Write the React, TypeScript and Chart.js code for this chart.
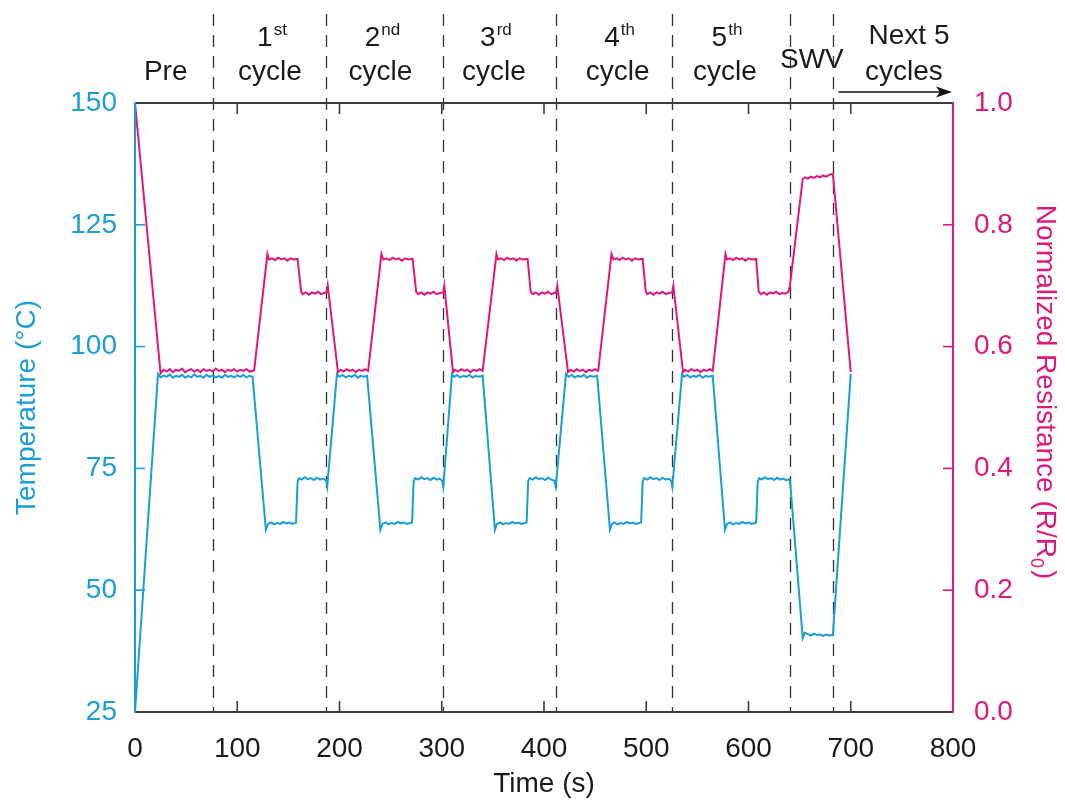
import React, { useEffect, useRef } from 'react';
import { Chart, registerables } from 'chart.js';

Chart.register(...registerables);

// ---------- data ----------
const tempTime = [
  0, 22.5, 25, 28, 31, 34, 37, 40, 43, 46, 49, 52, 55, 58, 61, 64, 67, 70, 73, 76, 79, 82, 85, 88, 91, 94, 97, 100, 103, 106, 109, 112, 115,
  128, 130, 133, 136, 139, 142, 145, 148, 151, 154, 157.5,
  159, 160.5, 163, 166, 169, 172, 175, 178, 181, 184, 187, 188,
  197.5, 200, 203, 206, 209, 212, 215, 218, 221, 224, 227,
  240, 242, 245, 248, 251, 254, 257, 260, 263, 266, 269, 271,
  272.5, 274, 277, 280, 283, 286, 289, 292, 295, 298, 300.5, 301.5,
  310, 312, 315, 318, 321, 324, 327, 330, 333, 336, 340,
  352, 354, 357, 360, 363, 366, 369, 372, 375, 378, 381, 383,
  384.5, 386, 389, 392, 395, 398, 401, 404, 407, 410, 411.5,
  421.5, 424, 427, 430, 433, 436, 439, 442, 445, 448, 452,
  464.5, 466.5, 469, 472, 475, 478, 481, 484, 487, 490, 493, 495,
  496.5, 498, 501, 504, 507, 510, 513, 516, 519, 522, 524.5, 525.5,
  535, 537, 540, 543, 546, 549, 552, 555, 558, 561, 565,
  577, 579, 582, 585, 588, 591, 594, 597, 600, 603, 606, 607.5,
  609, 610.5, 613, 616, 619, 622, 625, 628, 631, 634, 637, 640, 641,
  653, 655, 658, 661, 664, 667, 670, 673, 676, 679, 682.5,
  700,
];
const tempValues = [
  25, 94.4, 93.7, 94.1, 93.8, 94.3, 93.6, 94.0, 93.8, 94.2, 93.6, 94.0, 93.7, 94.3, 93.8, 94.0, 93.6, 94.2, 93.8, 94.1, 93.7, 94.0, 93.6, 94.2, 93.8, 94.0, 93.7, 94.1, 93.8, 94.2, 93.7, 94.0, 93.8,
  62.4, 63.6, 63.9, 63.5, 63.8, 63.6, 64.0, 63.7, 63.9, 63.6, 63.9,
  72.2, 73.0, 72.7, 73.2, 72.8, 73.0, 72.6, 73.1, 72.7, 72.9, 72.5, 71.3,
  94.4, 93.8, 94.2, 93.7, 94.0, 93.8, 94.2, 93.6, 94.0, 93.8, 94.0,
  62.4, 63.6, 63.9, 63.5, 63.8, 63.6, 64.0, 63.7, 63.9, 63.6, 63.8, 63.9,
  72.3, 73.0, 72.7, 73.2, 72.8, 73.0, 72.6, 73.1, 72.7, 72.9, 72.4, 71.2,
  94.4, 93.8, 94.2, 93.7, 94.0, 93.8, 94.2, 93.6, 94.0, 93.8, 94.0,
  62.4, 63.6, 63.9, 63.5, 63.8, 63.6, 64.0, 63.7, 63.9, 63.6, 63.8, 63.9,
  72.3, 73.0, 72.7, 73.2, 72.8, 73.0, 72.6, 73.1, 72.7, 72.5, 71.2,
  94.4, 93.8, 94.2, 93.7, 94.0, 93.8, 94.2, 93.6, 94.0, 93.8, 94.0,
  62.4, 63.6, 63.9, 63.5, 63.8, 63.6, 64.0, 63.7, 63.9, 63.6, 63.8, 63.9,
  72.3, 73.0, 72.7, 73.2, 72.8, 73.0, 72.6, 73.1, 72.7, 72.9, 72.4, 71.2,
  94.4, 93.8, 94.2, 93.7, 94.0, 93.8, 94.2, 93.6, 94.0, 93.8, 94.0,
  62.4, 63.6, 63.9, 63.5, 63.8, 63.6, 64.0, 63.7, 63.9, 63.6, 63.8, 63.9,
  72.3, 73.0, 72.7, 73.2, 72.8, 73.0, 72.6, 73.1, 72.7, 72.9, 72.6, 72.8, 71.5,
  40.2, 41.3, 41.0, 40.7, 41.1, 40.8, 40.9, 40.6, 40.9, 40.7, 40.8,
  94.4,
];

const resTime = [
  0, 25, 28, 31, 34, 37, 40, 43, 46, 49, 52, 55, 58, 61, 64, 67, 70, 73, 76, 79, 82, 85, 88, 91, 94, 97, 100, 103, 106, 109, 112, 116.5,
  129.5, 131, 134, 137, 140, 143, 146, 149, 152, 155, 159,
  162.5, 164, 167, 170, 173, 176, 179, 182, 185, 187.5, 188.5,
  198.5, 201, 204, 207, 210, 213, 216, 219, 222, 225, 228,
  241, 243, 246, 249, 252, 255, 258, 261, 264, 267, 271.5,
  275, 277, 280, 283, 286, 289, 292, 295, 298, 301.5, 302.5,
  311, 313, 316, 319, 322, 325, 328, 331, 334, 337, 340,
  353.5, 355, 358, 361, 364, 367, 370, 373, 376, 379, 384,
  387, 389, 392, 395, 398, 401, 404, 407, 410, 412, 413,
  423.5, 426, 429, 432, 435, 438, 441, 444, 447, 450, 453,
  466, 468, 471, 474, 477, 480, 483, 486, 489, 492, 496.5,
  499.5, 501, 504, 507, 510, 513, 516, 519, 522, 525.5, 526.5,
  536, 538, 541, 544, 547, 550, 553, 556, 559, 562, 565,
  577.5, 579, 582, 585, 588, 591, 594, 597, 600, 603, 607.5,
  610, 612, 615, 618, 621, 624, 627, 630, 633, 636, 639, 640.5,
  653, 655, 658, 661, 664, 667, 670, 673, 676, 679, 682.5,
  700,
];
const resValues = [
  1.0, 0.556, 0.562, 0.559, 0.563, 0.558, 0.562, 0.56, 0.564, 0.558, 0.561, 0.563, 0.559, 0.562, 0.558, 0.563, 0.56, 0.562, 0.559, 0.564, 0.56, 0.562, 0.558, 0.562, 0.56, 0.563, 0.559, 0.562, 0.56, 0.563, 0.559, 0.561,
  0.752, 0.743, 0.745, 0.742, 0.746, 0.743, 0.745, 0.741, 0.745, 0.743, 0.744,
  0.69, 0.686, 0.689, 0.685, 0.689, 0.687, 0.69, 0.686, 0.688, 0.689, 0.7,
  0.558, 0.562, 0.559, 0.563, 0.56, 0.562, 0.558, 0.562, 0.56, 0.563, 0.56,
  0.752, 0.743, 0.745, 0.742, 0.746, 0.743, 0.745, 0.741, 0.745, 0.743, 0.744,
  0.69, 0.686, 0.689, 0.685, 0.689, 0.687, 0.69, 0.686, 0.688, 0.689, 0.7,
  0.558, 0.562, 0.559, 0.563, 0.56, 0.562, 0.558, 0.562, 0.56, 0.563, 0.56,
  0.752, 0.743, 0.745, 0.742, 0.746, 0.743, 0.745, 0.741, 0.745, 0.743, 0.744,
  0.69, 0.686, 0.689, 0.685, 0.689, 0.687, 0.69, 0.686, 0.688, 0.689, 0.7,
  0.558, 0.562, 0.559, 0.563, 0.56, 0.562, 0.558, 0.562, 0.56, 0.563, 0.56,
  0.752, 0.743, 0.745, 0.742, 0.746, 0.743, 0.745, 0.741, 0.745, 0.743, 0.744,
  0.69, 0.686, 0.689, 0.685, 0.689, 0.687, 0.69, 0.686, 0.688, 0.689, 0.7,
  0.558, 0.562, 0.559, 0.563, 0.56, 0.562, 0.558, 0.562, 0.56, 0.563, 0.56,
  0.752, 0.743, 0.745, 0.742, 0.746, 0.743, 0.745, 0.741, 0.745, 0.743, 0.744,
  0.69, 0.686, 0.689, 0.685, 0.689, 0.687, 0.69, 0.686, 0.688, 0.687, 0.69, 0.7,
  0.875, 0.878, 0.876, 0.879, 0.877, 0.88, 0.878, 0.881, 0.879, 0.882, 0.884,
  0.558,
];

const boundaryTimes = [76, 187, 301, 412, 525, 641, 683];
const xTickValues = [100, 200, 300, 400, 500, 600, 700];
const tempTickValues = [50, 75, 100, 125];
const resTickValues = [0.2, 0.4, 0.6, 0.8];

const cycleOrdinals = ['1', '2', '3', '4', '5'];
const cycleSuffixes = ['st', 'nd', 'rd', 'th', 'th'];
const cycleCenters = [132, 240, 351, 472, 577];

// ---------- styling ----------
const BLUE = '#1a9ed8';
const PINK = '#e0177c';
const AXIS = '#3c3c3c';
const TEXT = '#1a1a1a';
const FONT = '"Liberation Sans", Arial, sans-serif';
const FS = 28;

function drawSup(ctx: CanvasRenderingContext2D, cx: number, base: number, main: string, sup: string) {
  ctx.font = `${FS}px ${FONT}`;
  const w1 = ctx.measureText(main).width;
  ctx.font = `17px ${FONT}`;
  const w2 = ctx.measureText(sup).width;
  const start = cx - (w1 + 1 + w2) / 2;
  ctx.textAlign = 'left';
  ctx.font = `${FS}px ${FONT}`;
  ctx.fillText(main, start, base);
  ctx.font = `17px ${FONT}`;
  ctx.fillText(sup, start + w1 + 1, base - 11);
}

const decorPlugin = {
  id: 'decor',
  beforeDatasetsDraw(chart: any) {
    const { ctx, chartArea, scales } = chart;
    const x = scales.x;
    ctx.save();
    ctx.strokeStyle = '#333';
    ctx.lineWidth = 1.3;
    ctx.setLineDash([12, 9]);
    boundaryTimes.forEach((t) => {
      const px = Math.round(x.getPixelForValue(t)) + 0.5;
      ctx.beginPath();
      ctx.moveTo(px, 14);
      ctx.lineTo(px, chartArea.bottom);
      ctx.stroke();
    });
    ctx.restore();
  },
  afterDraw(chart: any) {
    const { ctx, chartArea, scales } = chart;
    const x = scales.x, y = scales.y, y1 = scales.y1;
    const { left, right, top, bottom } = chartArea;
    ctx.save();
    ctx.setLineDash([]);
    // frame
    ctx.lineWidth = 2;
    ctx.strokeStyle = AXIS;
    ctx.beginPath();
    ctx.moveTo(left, top); ctx.lineTo(right, top);
    ctx.moveTo(left, bottom); ctx.lineTo(right, bottom);
    ctx.stroke();
    ctx.lineWidth = 1.6;
    xTickValues.forEach((v) => {
      const px = x.getPixelForValue(v);
      ctx.beginPath();
      ctx.moveTo(px, top); ctx.lineTo(px, top + 11);
      ctx.moveTo(px, bottom); ctx.lineTo(px, bottom - 11);
      ctx.stroke();
    });
    ctx.lineWidth = 2;
    ctx.strokeStyle = BLUE;
    ctx.beginPath();
    ctx.moveTo(left, top - 1); ctx.lineTo(left, bottom + 1);
    ctx.stroke();
    ctx.lineWidth = 1.6;
    tempTickValues.forEach((v) => {
      const py = y.getPixelForValue(v);
      ctx.beginPath();
      ctx.moveTo(left, py); ctx.lineTo(left + 10, py);
      ctx.stroke();
    });
    ctx.lineWidth = 2;
    ctx.strokeStyle = PINK;
    ctx.beginPath();
    ctx.moveTo(right, top - 1); ctx.lineTo(right, bottom + 1);
    ctx.stroke();
    ctx.lineWidth = 1.6;
    resTickValues.forEach((v) => {
      const py = y1.getPixelForValue(v);
      ctx.beginPath();
      ctx.moveTo(right, py); ctx.lineTo(right - 10, py);
      ctx.stroke();
    });

    // phase labels
    ctx.fillStyle = TEXT;
    ctx.textBaseline = 'alphabetic';
    ctx.font = `${FS}px ${FONT}`;
    ctx.textAlign = 'center';
    ctx.fillText('Pre', x.getPixelForValue(30), 80);
    cycleCenters.forEach((t, i) => {
      const cx = x.getPixelForValue(t);
      drawSup(ctx, cx + 2, 46, cycleOrdinals[i], cycleSuffixes[i]);
      ctx.font = `${FS}px ${FONT}`;
      ctx.textAlign = 'center';
      ctx.fillText('cycle', cx, 80);
    });
    ctx.fillText('SWV', x.getPixelForValue(662), 68);
    ctx.fillText('Next 5', x.getPixelForValue(757), 44);
    ctx.fillText('cycles', x.getPixelForValue(752), 80);

    // arrow
    const ax0 = x.getPixelForValue(688);
    const ax1 = right - 1;
    const ay = top - 11;
    ctx.strokeStyle = '#111';
    ctx.fillStyle = '#111';
    ctx.lineWidth = 1.6;
    ctx.beginPath();
    ctx.moveTo(ax0, ay); ctx.lineTo(ax1 - 10, ay);
    ctx.stroke();
    ctx.beginPath();
    ctx.moveTo(ax1, ay);
    ctx.lineTo(ax1 - 16, ay - 5.5);
    ctx.lineTo(ax1 - 12, ay);
    ctx.lineTo(ax1 - 16, ay + 5.5);
    ctx.closePath();
    ctx.fill();

    // right axis title with subscript
    ctx.fillStyle = PINK;
    ctx.translate(1045, 392);
    ctx.rotate(Math.PI / 2);
    const partA = 'Normalized Resistance (R/R';
    const partB = '0';
    const partC = ')';
    ctx.font = `${FS}px ${FONT}`;
    const wA = ctx.measureText(partA).width;
    const wC = ctx.measureText(partC).width;
    ctx.font = `18px ${FONT}`;
    const wB = ctx.measureText(partB).width;
    const total = wA + wB + 2 + wC;
    ctx.textAlign = 'left';
    ctx.textBaseline = 'middle';
    let sx = -total / 2;
    ctx.font = `${FS}px ${FONT}`;
    ctx.fillText(partA, sx, 0);
    sx += wA;
    ctx.font = `18px ${FONT}`;
    ctx.fillText(partB, sx, 9);
    sx += wB + 2;
    ctx.font = `${FS}px ${FONT}`;
    ctx.fillText(partC, sx, 0);
    ctx.restore();
  },
};

export default function App() {
  const ref = useRef<HTMLCanvasElement | null>(null);

  useEffect(() => {
    if (!ref.current) return;
    const tempData = tempTime.map((t, i) => ({ x: t, y: tempValues[i] }));
    const resData = resTime.map((t, i) => ({ x: t, y: resValues[i] }));
    const font = { family: FONT, size: FS };
    const chart = new Chart(ref.current, {
      type: 'scatter',
      data: {
        datasets: [
          {
            label: 'Temperature',
            data: tempData,
            yAxisID: 'y',
            showLine: true,
            borderColor: BLUE,
            backgroundColor: BLUE,
            borderWidth: 2,
            pointRadius: 0,
            tension: 0,
          },
          {
            label: 'Normalized Resistance',
            data: resData,
            yAxisID: 'y1',
            showLine: true,
            borderColor: PINK,
            backgroundColor: PINK,
            borderWidth: 2,
            pointRadius: 0,
            tension: 0,
          },
        ],
      },
      options: {
        responsive: false,
        animation: false,
        layout: { padding: { top: 103, left: 0, right: 0, bottom: 0 } },
        plugins: { legend: { display: false }, tooltip: { enabled: false } },
        scales: {
          x: {
            type: 'linear',
            position: 'bottom',
            min: 0,
            max: 800,
            ticks: { stepSize: 100, color: TEXT, font, padding: 20, maxRotation: 0, autoSkip: false },
            grid: { display: false, drawTicks: false },
            border: { display: false },
            title: { display: true, text: 'Time (s)', color: TEXT, font, padding: { top: 0, bottom: 0 } },
            afterFit: (s: any) => { s.height = 89; },
          },
          y: {
            type: 'linear',
            position: 'left',
            min: 25,
            max: 150,
            ticks: { stepSize: 25, color: BLUE, font, padding: 18 },
            grid: { display: false, drawTicks: false },
            border: { display: false },
            title: { display: true, text: 'Temperature (°C)', color: BLUE, font, padding: { top: 10, bottom: 0 } },
            afterFit: (s: any) => { s.width = 135; },
          },
          y1: {
            type: 'linear',
            position: 'right',
            min: 0,
            max: 1,
            ticks: { stepSize: 0.2, color: PINK, font, padding: 21, callback: (v: any) => Number(v).toFixed(1) },
            grid: { display: false, drawTicks: false },
            border: { display: false },
            afterFit: (s: any) => { s.width = 112; },
          },
        },
      } as any,
      plugins: [decorPlugin],
    });
    return () => chart.destroy();
  }, []);

  return (
    <div style={{ position: 'fixed', left: 0, top: 0, width: 1065, height: 801, background: '#fff' }}>
      <canvas ref={ref} width={1065} height={801} style={{ display: 'block' }} />
    </div>
  );
}
